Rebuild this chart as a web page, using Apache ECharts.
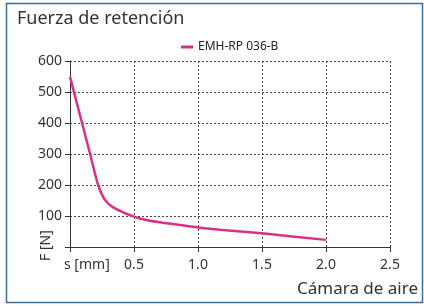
<!DOCTYPE html>
<html><head><meta charset="utf-8">
<script src="https://cdn.jsdelivr.net/npm/echarts@6/dist/echarts.min.js"></script>
<style>html,body{margin:0;padding:0;background:#fff}#c{width:424px;height:306px}</style>
</head><body><div id="c"></div>
<script>
const seriesName = 'EMH-RP 036-B';
const sValues = [0, 0.094, 0.157, 0.22, 0.273, 0.338, 0.5, 0.625, 0.86, 1.0, 1.17, 1.5, 2.0];
const fValues = [549, 400, 300, 200, 152, 128, 98, 85, 71, 63, 56, 44, 23];
const xTicks = [0, 0.5, 1.0, 1.5, 2.0, 2.5];
const yTicks = [0, 100, 200, 300, 400, 500, 600];

const font = '"Noto Sans", sans-serif';
const chart = echarts.init(document.getElementById('c'));
chart.setOption({
  animation: false,
  backgroundColor: '#fff',
  grid: {left: 70, right: 34, top: 61, bottom: 59},
  title: {text: 'Fuerza de retención', left: 12, top: 5,
    textStyle: {fontFamily: font, fontSize: 18, fontWeight: 'normal', color: '#333'}},
  legend: {data: [seriesName], left: 176, top: 36, itemWidth: 12, itemHeight: 3, itemGap: 4,
    icon: 'rect', textStyle: {fontFamily: font, fontSize: 12, color: '#222'}},
  xAxis: {type: 'value', min: xTicks[0], max: xTicks[xTicks.length-1], interval: 0.5,
    axisLine: {lineStyle: {color: '#333', width: 1}},
    axisTick: {show: true, length: 5, lineStyle: {color: '#333'}},
    axisLabel: {fontFamily: font, fontSize: 14, color: '#333', margin: 11,
      formatter: v => v === 0 ? '' : v.toFixed(1)},
    splitLine: {show: true, lineStyle: {color: '#444', type: [2, 2], width: 1}}},
  yAxis: {type: 'value', min: yTicks[0], max: yTicks[yTicks.length-1], interval: 100,
    axisLine: {show: true, lineStyle: {color: '#333', width: 1}},
    axisTick: {show: true, length: 5, lineStyle: {color: '#333'}},
    axisLabel: {fontFamily: font, fontSize: 14, color: '#333', margin: 8,
      formatter: v => v === 0 ? '' : String(v)},
    splitLine: {show: true, lineStyle: {color: '#444', type: [2, 2], width: 1}}},
  series: [{name: seriesName, type: 'line', smooth: 0.3, symbol: 'none',
    lineStyle: {color: '#d9308a', width: 2.5}, itemStyle: {color: '#d9308a'},
    data: sValues.map((s, i) => [s, fValues[i]])}],
  graphic: [
    {type: 'rect', shape: {x: 6.5, y: 3.5, width: 416, height: 299}, silent: true,
      style: {fill: 'none', stroke: '#3d6c96', lineWidth: 1.5}},
    {type: 'text', left: 64, top: 258, style: {text: 's [mm]', font: '14px ' + font, fill: '#333'}},
    {type: 'text', right: 6, top: 281, style: {text: 'Cámara de aire', font: '17px ' + font, fill: '#333'}},
    {type: 'text', x: 39, y: 261, rotation: Math.PI/2, style: {text: 'F [N]', font: '14px ' + font, fill: '#333'}}
  ]
});
</script></body></html>
